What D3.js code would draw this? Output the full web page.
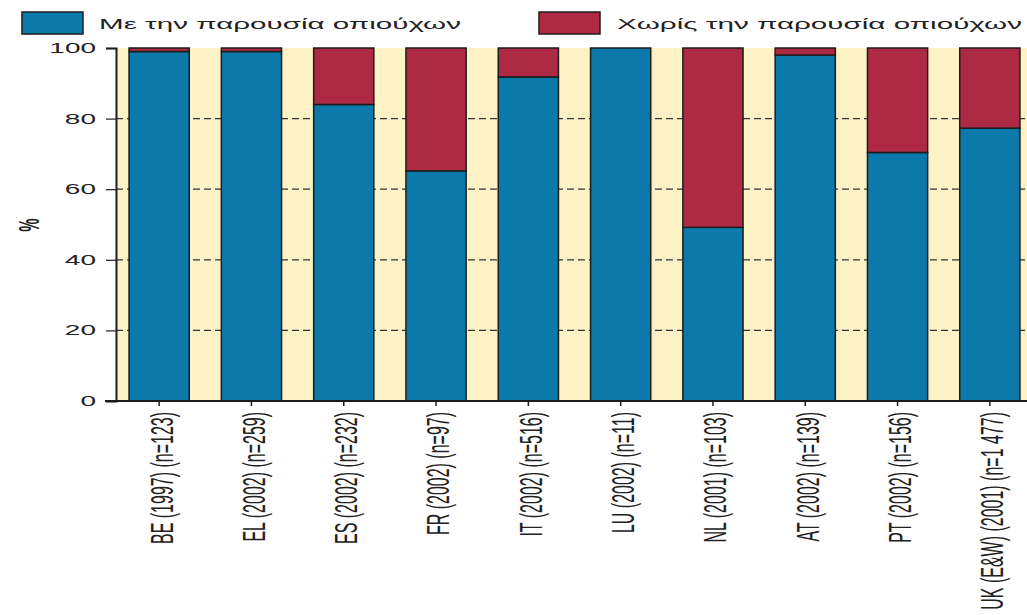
<!DOCTYPE html>
<html>
<head>
<meta charset="utf-8">
<script src="https://cdn.jsdelivr.net/npm/d3@7"></script>
<style>
  html, body { margin: 0; padding: 0; background: #fff; }
  svg { display: block; }
  text { font-family: "Liberation Sans", Arial, sans-serif; fill: #222; }
</style>
</head>
<body>
<svg id="chart" width="1027" height="615"></svg>
<script>
// ---- data ----
const categories = ["BE (1997) (n=123)", "EL (2002) (n=259)", "ES (2002) (n=232)", "FR (2002) (n=97)",
  "IT (2002) (n=516)", "LU (2002) (n=11)", "NL (2001) (n=103)", "AT (2002) (n=139)",
  "PT (2002) (n=156)", "UK (E&W) (2001) (n=1 477)"];
const withOpioids = [99, 99, 84, 65.2, 91.8, 100, 49.2, 98, 70.4, 77.3];
const withoutOpioids = withOpioids.map(v => 100 - v);
const seriesNames = ["Με την παρουσία οπιούχων", "Χωρίς την παρουσία οπιούχων"];
const yTicks = [0, 20, 40, 60, 80, 100];
const yLabel = "%";

const colors = { blue: "#0b7aab", red: "#ae2a44", cream: "#fdf2c6", line: "#1c1c1c" };

const svg = d3.select("#chart");
const plot = { left: 116, right: 1036, top: 48, bottom: 401 };
const SX = 2; // horizontal text stretch seen in reference

const x = d3.scaleBand().domain(categories).range([113, 1036]).paddingInner(0.348).paddingOuter(0.174);
const y = d3.scaleLinear().domain([0, 100]).range([plot.bottom, plot.top]);

// background of plot
svg.append("rect").attr("x", plot.left).attr("y", plot.top)
  .attr("width", 1027 - plot.left).attr("height", plot.bottom - plot.top)
  .attr("fill", colors.cream);

// gridlines
svg.append("g").selectAll("line").data(yTicks.filter(t => t > 0 && t < 100)).join("line")
  .attr("x1", plot.left).attr("x2", 1027)
  .attr("y1", d => y(d)).attr("y2", d => y(d))
  .attr("stroke", "#333").attr("stroke-width", 1.2).attr("stroke-dasharray", "7,4");

// stacked bars
const rows = categories.map((c, i) => ({ cat: c, a: withOpioids[i], b: withoutOpioids[i] }));
const stack = d3.stack().keys(["a", "b"])(rows);
const fills = [colors.blue, colors.red];
stack.forEach((layer, li) => {
  svg.append("g").selectAll("rect").data(layer).join("rect")
    .attr("x", d => x(d.data.cat))
    .attr("width", x.bandwidth())
    .attr("y", d => y(d[1]))
    .attr("height", d => Math.max(0, y(d[0]) - y(d[1])))
    .attr("fill", fills[li])
    .attr("stroke", colors.line).attr("stroke-width", 1.5);
});

// y axis
const yAxis = svg.append("g").attr("transform", `translate(${plot.left},0)`)
  .call(d3.axisLeft(y).tickValues(yTicks).tickSize(10).tickPadding(10).tickFormat(d3.format("d")));
yAxis.select(".domain").attr("stroke", colors.line).attr("stroke-width", 2);
yAxis.selectAll(".tick line").attr("stroke", colors.line).attr("stroke-width", 1.2);
yAxis.selectAll(".tick text")
  .attr("font-size", 14).attr("fill", "#222")
  .attr("text-anchor", "end")
  .attr("transform", function () {
    const xx = +d3.select(this).attr("x");
    return `translate(${xx},0) scale(${SX},1) translate(${-xx},0)`;
  });

// x axis
const xAxis = svg.append("g").attr("transform", `translate(0,${plot.bottom})`)
  .call(d3.axisBottom(x).tickSize(5).tickSizeOuter(0).tickFormat(""));
xAxis.select(".domain").attr("stroke", colors.line).attr("stroke-width", 2)
  .attr("d", `M${plot.left - 11},0H1027`);
xAxis.selectAll(".tick line").attr("stroke", colors.line).attr("stroke-width", 1.5);
xAxis.selectAll(".tick").append("text")
  .text(d => d)
  .attr("font-size", 16)
  .attr("fill", "#222")
  .attr("text-anchor", "end")
  .attr("dominant-baseline", "central")
  .attr("transform", `translate(2,11) scale(${SX},1) rotate(-90)`);

// y label
svg.append("text").text(yLabel)
  .attr("font-size", 15).attr("font-weight", "bold")
  .attr("text-anchor", "middle").attr("dominant-baseline", "central")
  .attr("transform", `translate(29,225) scale(${SX},1) rotate(-90)`);

// legend
const legend = [
  { name: seriesNames[0], color: colors.blue, x: 22, tx: 99, len: 362 },
  { name: seriesNames[1], color: colors.red, x: 539, tx: 617, len: 405 }
];
const lg = svg.append("g").selectAll("g").data(legend).join("g");
lg.append("rect").attr("x", d => d.x).attr("y", 12).attr("width", 61).attr("height", 22)
  .attr("fill", d => d.color).attr("stroke", colors.line).attr("stroke-width", 1.5);
lg.append("text").attr("x", d => d.tx).attr("y", 29)
  .attr("font-size", 14.5)
  .attr("textLength", d => d.len).attr("lengthAdjust", "spacingAndGlyphs")
  .text(d => d.name);
</script>
</body>
</html>
